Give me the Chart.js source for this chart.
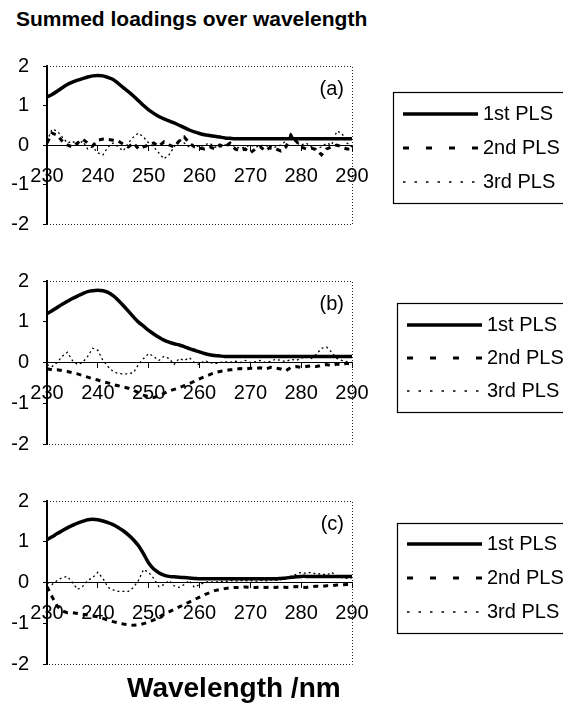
<!DOCTYPE html>
<html>
<head>
<meta charset="utf-8">
<script src="https://cdn.jsdelivr.net/npm/chart.js@4.4.0/dist/chart.umd.min.js"></script>
<style>
  html, body { margin: 0; padding: 0; background: #fff; overflow: hidden; }
  #wrap { position: relative; width: 563px; height: 707px; }
  canvas { position: absolute; left: 0; }
  .txt { position: absolute; font-family: "Liberation Sans", Arial, sans-serif; font-weight: bold; color: #000; white-space: nowrap; }
</style>
</head>
<body>
<div id="wrap">
  <div class="txt" style="left:16px; top:7px; font-size:21px;">Summed loadings over wavelength</div>
  <canvas id="chartA" width="563" height="210" style="top:40px"></canvas>
  <canvas id="chartB" width="563" height="215" style="top:255px"></canvas>
  <canvas id="chartC" width="563" height="215" style="top:475px"></canvas>
  <div class="txt" style="left:127px; top:672px; font-size:28px;">Wavelength /nm</div>
</div>
<script>
// wavelength axis (nm)
const wavelengths = [
  230, 231, 232, 233, 234, 235, 236, 237, 238, 239,
  240, 241, 242, 243, 244, 245, 246, 247, 248, 249,
  250, 251, 252, 253, 254, 255, 256, 257, 258, 259,
  260, 261, 262, 263, 264, 265, 266, 267, 268, 269,
  270, 271, 272, 273, 274, 275, 276, 277, 278, 279,
  280, 281, 282, 283, 284, 285, 286, 287, 288, 289,
  290
];
const seriesNames = ['1st PLS', '2nd PLS', '3rd PLS'];
const panelLetters = ['(a)', '(b)', '(c)'];
const yTicks = [-2, -1, 0, 1, 2];

// panel (a)
const pls1A = [
  1.22, 1.28, 1.36, 1.45, 1.53, 1.59, 1.64, 1.68, 1.72, 1.75,
  1.76, 1.75, 1.71, 1.66, 1.56, 1.45, 1.35, 1.24, 1.12, 1.00,
  0.89, 0.80, 0.72, 0.66, 0.61, 0.56, 0.50, 0.44, 0.38, 0.33,
  0.29, 0.26, 0.24, 0.22, 0.20, 0.18, 0.17, 0.16, 0.16, 0.16,
  0.16, 0.16, 0.16, 0.16, 0.16, 0.16, 0.16, 0.16, 0.16, 0.16,
  0.16, 0.16, 0.16, 0.16, 0.16, 0.16, 0.16, 0.16, 0.16, 0.16,
  0.16
];
const pls2A = [
  0.05, 0.30, 0.25, 0.10, 0.00, -0.05, 0.05, 0.15, 0.05, -0.02,
  0.12, 0.15, 0.14, 0.12, 0.10, 0.02, -0.05, 0.05, -0.10, -0.05,
  0.00, 0.05, -0.03, 0.08, 0.00, -0.05, 0.10, 0.20, 0.05, -0.05,
  -0.08, -0.10, -0.05, -0.10, 0.00, -0.05, 0.05, -0.10, -0.15, -0.10,
  -0.20, -0.10, -0.05, -0.15, -0.05, -0.10, -0.15, -0.05, 0.25, 0.10,
  -0.05, -0.10, -0.08, -0.12, -0.25, -0.10, -0.05, 0.00, -0.05, -0.10,
  -0.10
];
const pls3A = [
  0.10, 0.40, 0.35, 0.20, 0.05, 0.10, 0.00, 0.10, -0.10, -0.05,
  -0.20, -0.25, -0.05, 0.05, -0.05, -0.15, 0.05, 0.20, 0.30, 0.20,
  0.05, -0.05, -0.20, -0.35, -0.25, -0.05, 0.15, 0.05, -0.05, 0.00,
  -0.05, 0.00, 0.05, -0.05, -0.05, 0.00, 0.05, -0.05, -0.08, -0.05,
  0.00, -0.05, -0.02, 0.00, -0.10, -0.05, 0.00, 0.10, 0.30, 0.05,
  0.00, 0.05, -0.05, -0.10, -0.05, 0.05, 0.00, 0.35, 0.30, 0.05,
  -0.05
];

// panel (b)
const pls1B = [
  1.20, 1.27, 1.35, 1.43, 1.50, 1.57, 1.63, 1.69, 1.74, 1.76,
  1.77, 1.76, 1.72, 1.64, 1.53, 1.40, 1.26, 1.12, 0.99, 0.89,
  0.79, 0.70, 0.62, 0.55, 0.50, 0.46, 0.43, 0.39, 0.34, 0.30,
  0.26, 0.22, 0.19, 0.17, 0.16, 0.15, 0.15, 0.15, 0.15, 0.15,
  0.15, 0.15, 0.15, 0.15, 0.15, 0.15, 0.15, 0.15, 0.15, 0.15,
  0.15, 0.15, 0.15, 0.15, 0.15, 0.15, 0.15, 0.15, 0.15, 0.15,
  0.15
];
const pls2B = [
  -0.15, -0.18, -0.18, -0.20, -0.22, -0.25, -0.28, -0.32, -0.36, -0.40,
  -0.43, -0.47, -0.50, -0.54, -0.57, -0.60, -0.63, -0.68, -0.74, -0.80,
  -0.84, -0.86, -0.82, -0.76, -0.70, -0.66, -0.62, -0.57, -0.52, -0.46,
  -0.40, -0.35, -0.30, -0.25, -0.22, -0.20, -0.18, -0.17, -0.15, -0.16,
  -0.14, -0.15, -0.13, -0.16, -0.12, -0.14, -0.16, -0.20, -0.12, -0.10,
  -0.12, -0.10, -0.08, -0.10, -0.07, -0.05, -0.08, -0.04, -0.06, -0.02,
  -0.04
];
const pls3B = [
  -0.05, -0.10, 0.00, 0.15, 0.25, 0.05, -0.05, 0.00, 0.15, 0.35,
  0.30, 0.05, -0.10, -0.22, -0.27, -0.28, -0.28, -0.25, -0.05, 0.10,
  0.22, 0.15, 0.05, 0.15, 0.10, -0.05, 0.10, 0.05, 0.12, 0.00,
  -0.05, 0.05, 0.00, -0.03, 0.00, 0.02, 0.00, 0.03, 0.00, 0.05,
  0.00, 0.02, 0.05, 0.00, 0.03, 0.08, 0.05, 0.02, 0.08, 0.05,
  0.10, 0.15, 0.10, 0.20, 0.35, 0.38, 0.25, 0.10, 0.05, 0.02,
  0.00
];

// panel (c)
const pls1C = [
  1.05, 1.12, 1.20, 1.27, 1.34, 1.40, 1.46, 1.50, 1.54, 1.55,
  1.54, 1.51, 1.47, 1.42, 1.35, 1.27, 1.17, 1.05, 0.90, 0.70,
  0.48, 0.33, 0.24, 0.18, 0.15, 0.14, 0.13, 0.12, 0.11, 0.10,
  0.09, 0.09, 0.09, 0.09, 0.09, 0.09, 0.09, 0.09, 0.09, 0.09,
  0.09, 0.09, 0.09, 0.09, 0.09, 0.09, 0.10, 0.11, 0.13, 0.14,
  0.15, 0.15, 0.15, 0.15, 0.15, 0.15, 0.15, 0.15, 0.15, 0.15,
  0.15
];
const pls2C = [
  -0.10, -0.35, -0.58, -0.70, -0.74, -0.74, -0.76, -0.78, -0.80, -0.82,
  -0.84, -0.88, -0.92, -0.96, -0.99, -1.02, -1.04, -1.05, -1.04, -1.01,
  -0.97, -0.92, -0.85, -0.78, -0.72, -0.66, -0.60, -0.54, -0.48, -0.42,
  -0.36, -0.30, -0.25, -0.20, -0.17, -0.15, -0.13, -0.12, -0.12, -0.11,
  -0.12, -0.12, -0.11, -0.12, -0.11, -0.12, -0.10, -0.12, -0.11, -0.10,
  -0.11, -0.12, -0.10, -0.09, -0.10, -0.08, -0.08, -0.06, -0.06, -0.05,
  -0.05
];
const pls3C = [
  0.00, -0.05, 0.05, 0.12, 0.15, 0.00, -0.17, -0.10, 0.05, 0.12,
  0.25, 0.10, -0.12, -0.18, -0.22, -0.22, -0.22, -0.12, 0.05, 0.32,
  0.25, 0.10, -0.10, -0.05, 0.05, -0.08, -0.12, -0.05, 0.05, -0.12,
  -0.05, 0.00, 0.02, 0.00, 0.03, 0.02, 0.05, 0.03, 0.05, 0.04,
  0.05, 0.03, 0.05, 0.04, 0.06, 0.05, 0.07, 0.10, 0.15, 0.20,
  0.25, 0.22, 0.25, 0.20, 0.22, 0.18, 0.25, 0.15, 0.12, 0.10,
  0.12
];

const FONT = '"Liberation Sans", Arial, sans-serif';
Chart.defaults.font.family = FONT;
Chart.defaults.color = '#000';

// line looks for the three PLS components
const lineStyles = [
  { borderWidth: 3.5, borderDash: [], legendDash: [], tension: 0.3 },
  { borderWidth: 3, borderDash: [5, 5], legendDash: [6, 17], tension: 0 },
  { borderWidth: 1.3, borderDash: [2, 3], legendDash: [2.5, 9], tension: 0 }
];

// draws dotted plot frame, panel letter and the boxed legend
const framePlugin = {
  id: 'frame',
  afterDraw(chart, args, opts) {
    const ctx = chart.ctx, a = chart.chartArea;
    ctx.save();
    ctx.strokeStyle = '#222';
    ctx.lineWidth = 1;
    ctx.setLineDash([1, 2]);
    ctx.beginPath();
    ctx.moveTo(a.left, a.top + 0.5);
    ctx.lineTo(a.right + 0.5, a.top + 0.5);
    ctx.lineTo(a.right + 0.5, a.bottom + 0.5);
    ctx.lineTo(a.left, a.bottom + 0.5);
    ctx.stroke();
    ctx.setLineDash([]);

    ctx.fillStyle = '#000';
    ctx.font = '20px ' + FONT;
    ctx.textAlign = 'right';
    ctx.textBaseline = 'middle';
    ctx.fillText(opts.letter, a.right - 8, a.top + 23);

    const L = opts.legend;
    ctx.strokeStyle = '#000';
    ctx.lineWidth = 1.2;
    ctx.strokeRect(L.left + 0.5, L.top + 0.5, L.width, L.height);
    ctx.textAlign = 'left';
    chart.data.datasets.forEach((ds, i) => {
      const y = L.top + L.first + i * L.gap;
      ctx.beginPath();
      ctx.setLineDash(ds.legendDash);
      ctx.lineWidth = ds.borderWidth;
      ctx.moveTo(L.left + 10, y);
      ctx.lineTo(L.left + 85, y);
      ctx.stroke();
      ctx.setLineDash([]);
      ctx.fillText(ds.label, L.left + 90, y);
    });
    ctx.restore();
  }
};

function makePanel(id, letter, series, padTop, padBottom, legend) {
  const datasets = series.map((vals, i) => ({
    label: seriesNames[i],
    data: wavelengths.map((w, j) => ({ x: w, y: vals[j] })),
    borderColor: '#000',
    borderWidth: lineStyles[i].borderWidth,
    borderDash: lineStyles[i].borderDash,
    legendDash: lineStyles[i].legendDash,
    tension: lineStyles[i].tension,
    pointRadius: 0,
    fill: false
  }));
  new Chart(document.getElementById(id), {
    type: 'line',
    data: { datasets },
    plugins: [framePlugin],
    options: {
      responsive: false,
      animation: false,
      layout: { padding: { left: 0, right: 211, top: padTop, bottom: padBottom } },
      plugins: {
        legend: { display: false },
        tooltip: { enabled: false },
        frame: { letter, legend }
      },
      scales: {
        x: {
          type: 'linear',
          position: { y: 0 },
          min: 230, max: 290,
          ticks: { stepSize: 10, padding: 14, maxRotation: 0, font: { size: 20 }, color: '#000' },
          grid: { drawOnChartArea: false, tickLength: 5, color: '#000' },
          border: { color: '#000', width: 1 }
        },
        y: {
          min: -2, max: 2,
          afterFit(scale) { scale.width = 47; },
          afterBuildTicks(scale) { scale.ticks = yTicks.map(v => ({ value: v })); },
          ticks: { padding: 14, font: { size: 20 }, color: '#000' },
          grid: { drawOnChartArea: false, tickLength: 4, color: '#000' },
          border: { color: '#000', width: 2 }
        }
      }
    }
  });
}

makePanel('chartA', panelLetters[0], [pls1A, pls2A, pls3A], 18, 20,
  { left: 393, top: 52, width: 200, height: 111, first: 22, gap: 34 });
makePanel('chartB', panelLetters[1], [pls1B, pls2B, pls3B], 18, 18,
  { left: 397, top: 48, width: 200, height: 109, first: 22, gap: 33 });
makePanel('chartC', panelLetters[2], [pls1C, pls2C, pls3C], 18, 21,
  { left: 397, top: 48, width: 200, height: 110, first: 21, gap: 34 });
</script>
</body>
</html>
